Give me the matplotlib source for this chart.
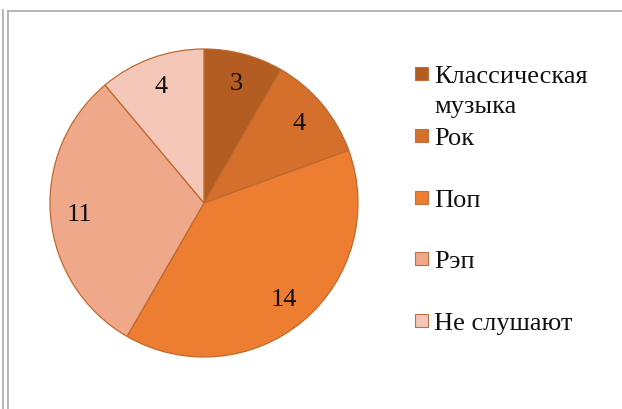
import matplotlib
matplotlib.use("Agg")
import matplotlib.pyplot as plt
from matplotlib.lines import Line2D
from matplotlib.patches import Rectangle

categories = ["Классическая\nмузыка", "Рок", "Поп", "Рэп", "Не слушают"]
values = [3, 4, 14, 11, 4]
colors = ["#B35D22", "#D46F2C", "#ED7D31", "#F0A88A", "#F5C7B8"]

FONT = 'Liberation Serif'

fig = plt.figure(figsize=(6.22, 4.10), dpi=100)
ax = fig.add_axes([0, 0, 1, 1])

wedges, texts = ax.pie(values, colors=colors, startangle=90, counterclock=False,
                       center=(204, 206), radius=154,
                       labels=[str(v) for v in values], labeldistance=0.81,
                       wedgeprops=dict(edgecolor="#BE6A2E", linewidth=0.9),
                       textprops=dict(fontsize=19, color="#111111", ha="center",
                                      va="center", family=FONT))
ax.set_xlim(0, 622)
ax.set_ylim(0, 410)
ax.set_aspect("equal")
ax.axis("off")

# legend (manual, Excel-like spacing)
W, H = 622, 410
baselines = [83, 145, 207, 268, 330]
for b, lab, c in zip(baselines, categories, colors):
    fig.patches.append(Rectangle((415 / W, 1 - (b - 2) / H), 13 / W, 13 / H,
                                 transform=fig.transFigure, facecolor=c,
                                 edgecolor="#C07040", linewidth=0.8))
    for i, line in enumerate(lab.split("\n")):
        fig.text(434 / W, 1 - (b + 30 * i) / H, line, fontsize=19, va="baseline",
                 ha="left", color="#111111", family=FONT)

# frame lines
fig.add_artist(Line2D([2.5 / W, 2.5 / W], [0, 1 - 11 / H], transform=fig.transFigure, color="#AAAAAA", lw=1.2))
fig.add_artist(Line2D([8 / W, 8 / W], [0, 1 - 11.5 / H], transform=fig.transFigure, color="#AAAAAA", lw=1.2))
fig.add_artist(Line2D([8 / W, 1], [1 - 11.5 / H, 1 - 11.5 / H], transform=fig.transFigure, color="#AAAAAA", lw=1.2))

fig.savefig("out.png", dpi=100)
